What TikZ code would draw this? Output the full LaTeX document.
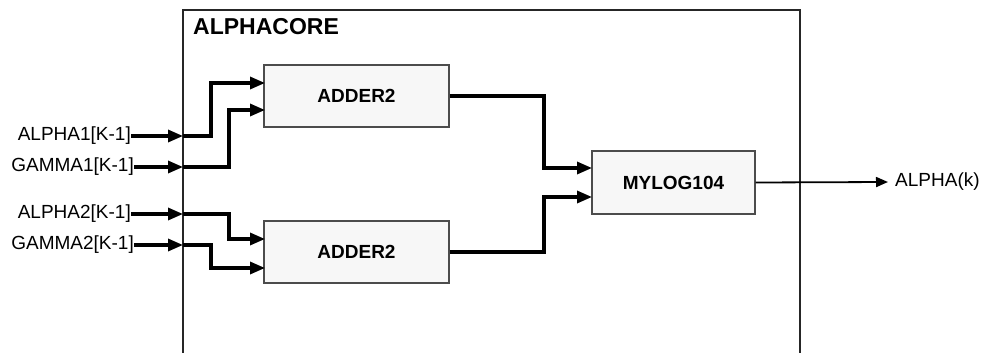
\documentclass[tikz,border=0pt]{standalone}
\usepackage{fontspec}
\setmainfont{Liberation Sans}
\usetikzlibrary{arrows.meta}
\tikzset{
  sig/.style={line width=3.2pt, -{Triangle[length=15pt,width=12pt]}},
  outsig/.style={line width=1.8pt, -{Triangle[length=12pt,width=10pt]}},
  blk/.style={draw=black!70, line width=1.2pt, fill=black!3, rectangle, inner sep=0pt,
    font=\fontsize{19}{22}\selectfont\bfseries},
  lbl/.style={inner sep=0pt, font=\fontsize{19}{22}\selectfont},
  frame/.style={line width=1.2pt, draw=black!85}
}
\begin{document}
\begin{tikzpicture}[x=1pt,y=-1pt]
\useasboundingbox (0,0) rectangle (989,353);
% enclosing frame
\draw[frame] (183,353) |- (800,10) -- (800,353);
\node[anchor=west, inner sep=0pt, font=\fontsize{23}{26}\selectfont\bfseries] (core) at (193,27) {ALPHACORE};
% blocks
\node[blk, minimum width=185pt, minimum height=62pt] (add1) at (356.5,96) {ADDER2};
\node[blk, minimum width=185pt, minimum height=62pt] (add2) at (356.5,252) {ADDER2};
\node[blk, minimum width=163pt, minimum height=63pt] (log) at (673.5,182.5) {MYLOG104};
% input labels
\node[lbl, anchor=east] (a1) at (131,136) {ALPHA1[K-1]};
\node[lbl, anchor=east] (g1) at (134,167) {GAMMA1[K-1]};
\node[lbl, anchor=east] (a2) at (131,214) {ALPHA2[K-1]};
\node[lbl, anchor=east] (g2) at (134,245) {GAMMA2[K-1]};
% ports on frame
\coordinate (pa1) at (183,136);
\coordinate (pg1) at (183,167);
\coordinate (pa2) at (183,214);
\coordinate (pg2) at (183,245);
% adder inputs
\coordinate (i11) at (265,83);
\coordinate (i12) at (265,110);
\coordinate (i21) at (265,239);
\coordinate (i22) at (265,268);
% mylog inputs
\coordinate (l1) at (592,168);
\coordinate (l2) at (592,197);
% output
\coordinate (o) at (888,182);
\node[lbl, anchor=west] (out) at (895,182) {ALPHA(k)};
% input wires to frame
\draw[sig] (a1.east) -- (pa1);
\draw[sig] (g1.east) -- (pg1);
\draw[sig] (a2.east) -- (pa2);
\draw[sig] (g2.east) -- (pg2);
% frame to adders
\draw[sig] (pa1) -- (211,136) |- (i11);
\draw[sig] (pg1) -- (229,167) |- (i12);
\draw[sig] (pa2) -- (229,214) |- (i21);
\draw[sig] (pg2) -- (211,245) |- (i22);
% adders to mylog
\draw[sig] (add1.east) -- (544,96) |- (l1);
\draw[sig] (add2.east) -- (544,252) |- (l2);
% output
\draw[outsig] (log.east) -- (o);
\end{tikzpicture}
\end{document}
